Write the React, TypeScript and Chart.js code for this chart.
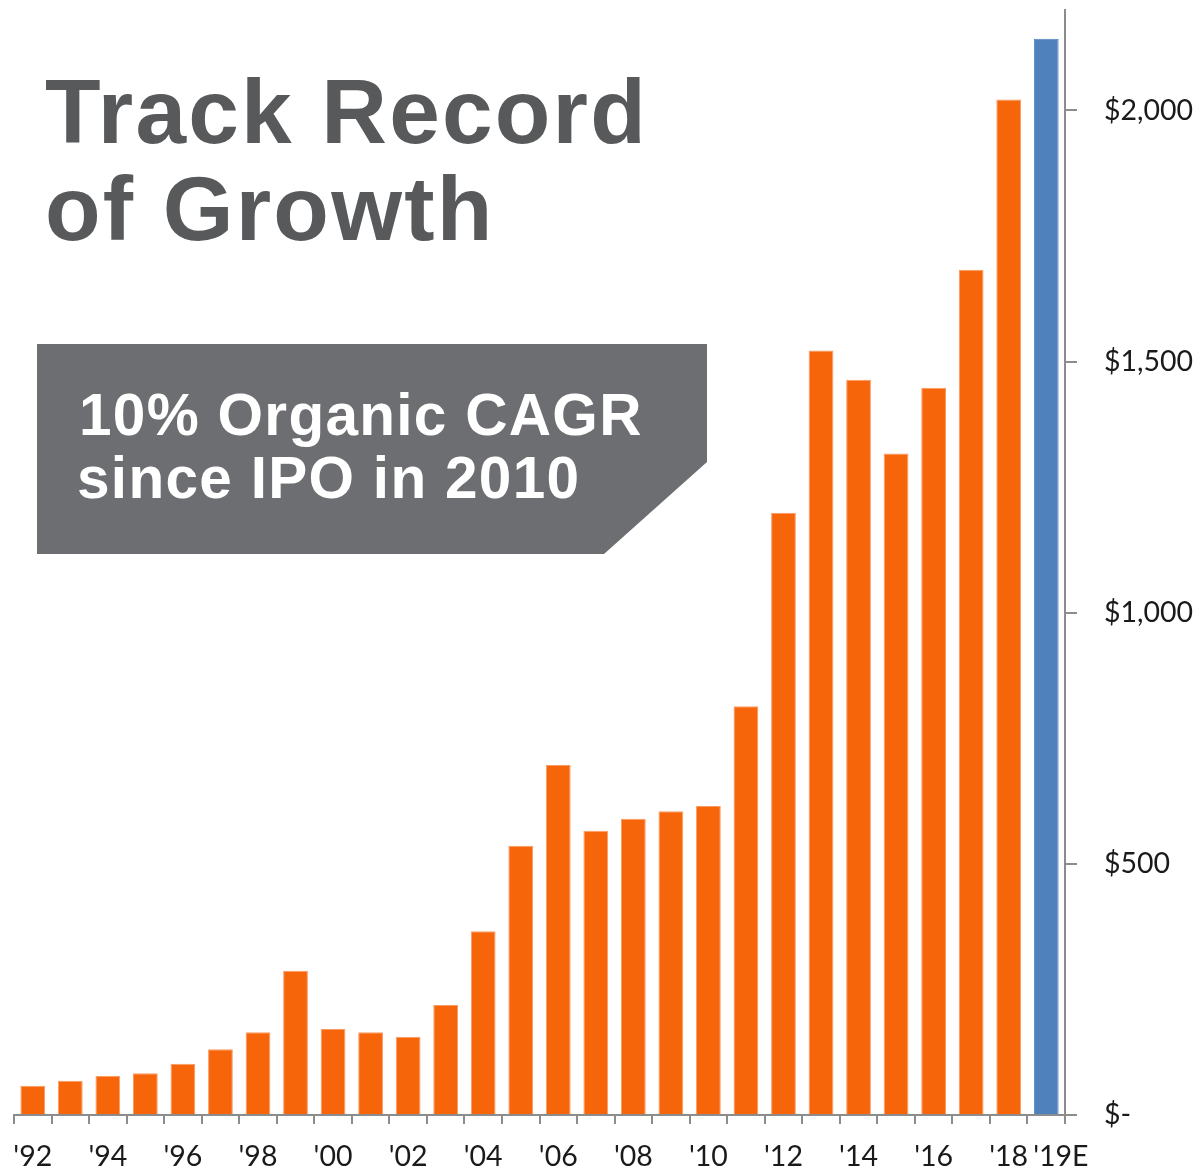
import React, { useEffect, useRef } from 'react';
import { Chart, registerables } from 'chart.js';

Chart.register(...registerables);

// ---- data ----
const years: string[] = [
  "'92", "'93", "'94", "'95", "'96", "'97", "'98", "'99", "'00", "'01",
  "'02", "'03", "'04", "'05", "'06", "'07", "'08", "'09", "'10", "'11",
  "'12", "'13", "'14", "'15", "'16", "'17", "'18", "'19E",
];
const revenue: number[] = [
  58, 68, 78, 83, 102, 131, 165, 287, 171, 165,
  156, 219, 366, 536, 697, 566, 590, 605, 615, 814,
  1199, 1522, 1464, 1317, 1448, 1683, 2022, 2143,
];
const labeledYears: string[] = [
  "'92", "'94", "'96", "'98", "'00", "'02", "'04", "'06", "'08", "'10",
  "'12", "'14", "'16", "'18", "'19E",
];
const estimateYears: string[] = ["'19E"];
const yTickValues: number[] = [0, 500, 1000, 1500, 2000];
const yMax = 2200;

const title: string[] = ['Track Record', 'of Growth'];
const callout: string[] = ['10% Organic CAGR', 'since IPO in 2010'];

const ORANGE = '#F7650B';
const ORANGE_EDGE = '#FA9C62';
const BLUE = '#4F81BD';
const AXIS = '#8C8C8C';
const TEXT = '#1A1A1A';
const TICK_FONT = 'Lato, "Open Sans", sans-serif';

export default function App() {
  const canvasRef = useRef<HTMLCanvasElement | null>(null);

  useEffect(() => {
    const canvas = canvasRef.current;
    if (!canvas) return;
    const isEst = (y: string) => estimateYears.includes(y);
    const chart = new Chart(canvas, {
      type: 'bar',
      data: {
        labels: years,
        datasets: [
          {
            data: revenue,
            backgroundColor: years.map((y) => (isEst(y) ? BLUE : ORANGE)),
            borderColor: years.map((y) => (isEst(y) ? BLUE : ORANGE_EDGE)),
            borderWidth: 1,
            barPercentage: 0.66,
            categoryPercentage: 1,
          },
        ],
      },
      options: {
        responsive: false,
        animation: false,
        devicePixelRatio: 1,
        layout: { padding: { left: 14, top: 10, right: 0, bottom: 0 } },
        plugins: {
          legend: { display: false },
          tooltip: { enabled: false },
          title: { display: false },
        },
        scales: {
          x: {
            type: 'category',
            offset: true,
            grid: {
              display: true,
              drawOnChartArea: false,
              drawTicks: true,
              tickLength: 9,
              color: AXIS,
              lineWidth: 2,
              offset: true,
            },
            border: { display: true, color: AXIS, width: 2 },
            ticks: {
              autoSkip: false,
              maxRotation: 0,
              minRotation: 0,
              padding: 16,
              color: TEXT,
              font: { family: TICK_FONT, size: 28.5 },
              callback: (_v: any, i: number) => {
                const y = years[i];
                if (!labeledYears.includes(y)) return '';
                // estimate label sits slightly right of its bar, as in the source
                return isEst(y) ? '    ' + y : y;
              },
            },
            afterFit: (s: any) => {
              s.height = 56;
              s.paddingLeft = 0;
              s.paddingRight = 0;
            },
          },
          y: {
            type: 'linear',
            position: 'right',
            min: 0,
            max: yMax,
            grid: {
              display: true,
              drawOnChartArea: false,
              drawTicks: true,
              tickLength: 12,
              color: AXIS,
              lineWidth: 2,
            },
            border: { display: true, color: AXIS, width: 2 },
            afterBuildTicks: (s: any) => {
              s.ticks = yTickValues.map((v) => ({ value: v }));
            },
            ticks: {
              padding: 27,
              color: TEXT,
              font: { family: TICK_FONT, size: 28.5 },
              callback: (v: any) =>
                Number(v) === 0 ? '$-' : '$' + Number(v).toLocaleString('en-US'),
            },
            afterFit: (s: any) => {
              s.width = 137;
              s.paddingTop = 0;
              s.paddingBottom = 0;
            },
          },
        },
      },
    });
    return () => chart.destroy();
  }, []);

  return (
    <div
      style={{
        position: 'absolute',
        left: 0,
        top: 0,
        width: 1202,
        height: 1171,
        background: '#fff',
        overflow: 'hidden',
      }}
    >
      <canvas
        ref={canvasRef}
        width={1202}
        height={1171}
        style={{ position: 'absolute', left: 0, top: 0, width: 1202, height: 1171 }}
      />
      <svg
        width={1202}
        height={1171}
        style={{ position: 'absolute', left: 0, top: 0, pointerEvents: 'none' }}
      >
        <text
          fill="#58595B"
          fontFamily='"Liberation Sans", Arial, sans-serif'
          fontWeight="bold"
          fontSize={91}
          letterSpacing={2.2}
        >
          <tspan x={45} y={143}>{title[0]}</tspan>
          <tspan x={45} y={240}>{title[1]}</tspan>
        </text>
        <polygon points="37,344 707,344 707,462 604,554 37,554" fill="#6D6E71" />
        <text
          fill="#FFFFFF"
          fontFamily='"Liberation Sans", Arial, sans-serif'
          fontWeight="bold"
          fontSize={58.5}
          letterSpacing={1.3}
        >
          <tspan x={79} y={435}>{callout[0]}</tspan>
          <tspan x={77} y={498}>{callout[1]}</tspan>
        </text>
      </svg>
    </div>
  );
}
